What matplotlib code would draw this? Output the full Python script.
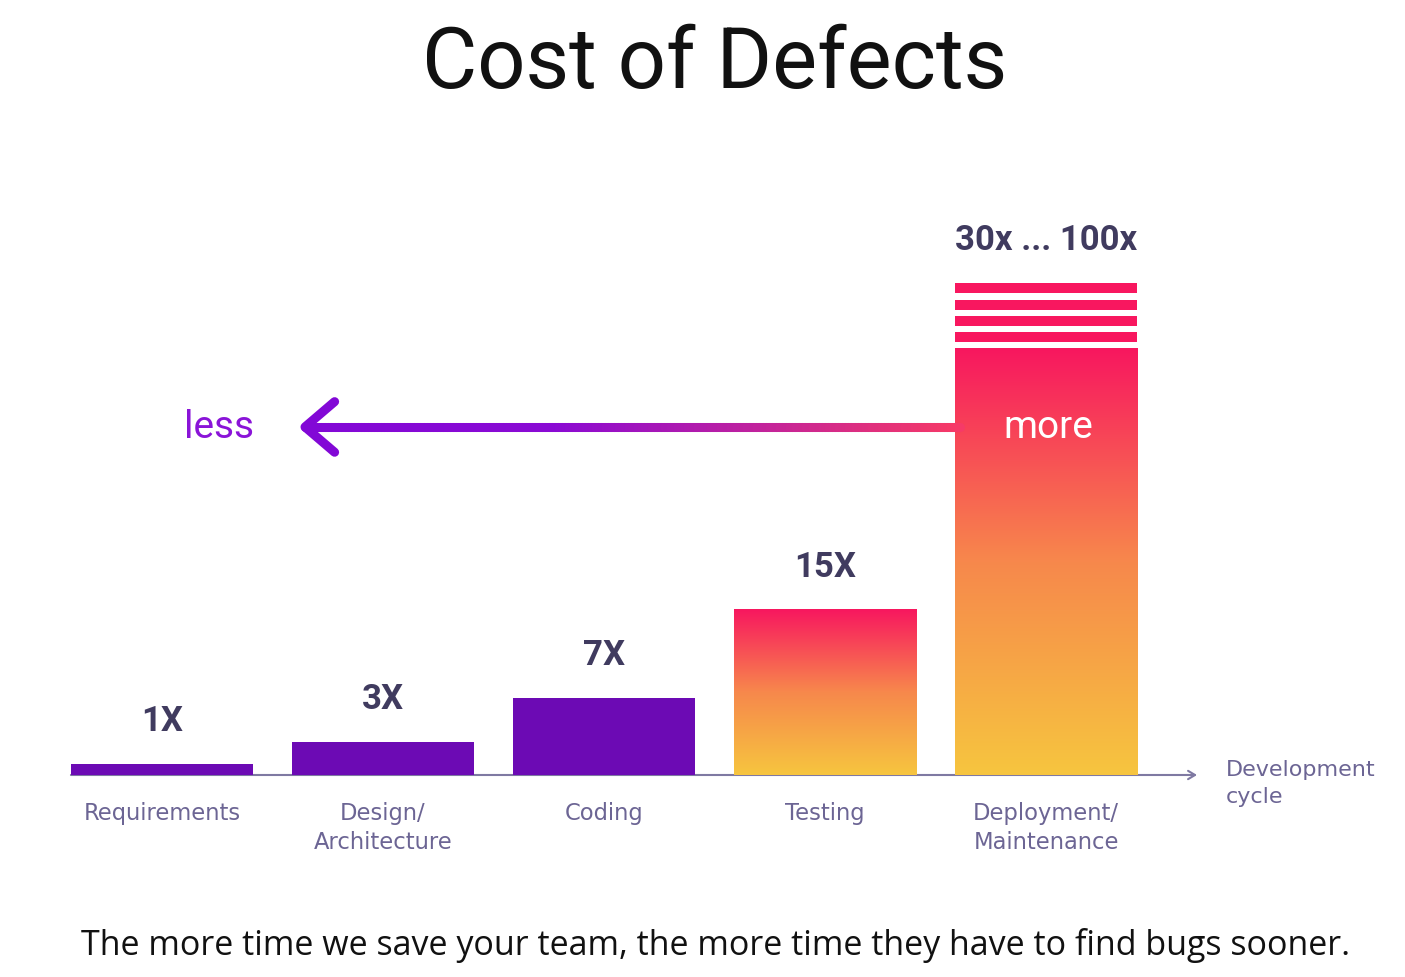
import matplotlib
matplotlib.use('Agg')
import matplotlib.pyplot as plt
import numpy as np
from matplotlib.colors import LinearSegmentedColormap
from matplotlib.collections import LineCollection

# data
stages = ['Requirements', 'Design/\nArchitecture', 'Coding', 'Testing', 'Deployment/\nMaintenance']
cost_labels = ['1X', '3X', '7X', '15X', '30x ... 100x']
bar_heights = [1, 3, 7, 15, 38.8]   # last bar is drawn "broken", it stands for 30x..100x
gradient_bar = [False, False, False, True, True]
n_stripes = 4

plt.rcParams['font.family'] = ['Roboto', 'DejaVu Sans']
wide = ['Open Sans', 'DejaVu Sans']

purple = '#6c0ab4'
label_col = '#403b5f'
cat_col = '#6c6594'
axis_col = '#7f79a2'
pink = '#f8175f'
grad = LinearSegmentedColormap.from_list('g', ['#f6c53f', '#f7884c', '#f8175f'])
arrow_cmap = LinearSegmentedColormap.from_list('a', [(0, '#8208d6'), (0.38, '#8a0ad4'), (1, '#f73a66')])

fig = plt.figure(figsize=(14.05, 9.78), dpi=100)
ax = fig.add_axes([0, 0, 1, 1])
ax.axis('off')
xlim = (-0.733, 5.624)
ylim = (-18.364, 70.545)

width = 0.8235
x = np.arange(len(stages))

for i, h in enumerate(bar_heights):
    if gradient_bar[i]:
        g = np.linspace(0, 1, 256).reshape(-1, 1)
        ax.imshow(g, cmap=grad, aspect='auto', origin='lower', interpolation='bicubic',
                  extent=[x[i] - width / 2, x[i] + width / 2, 0, h], zorder=2)
    else:
        ax.bar(x[i], h, width=width, color=purple, zorder=2)

# stripes above the broken bar
stripe_h = 0.9
stripe_step = 1.48
for k in range(n_stripes):
    ax.bar(x[-1], stripe_h, width=width, bottom=bar_heights[-1] + 0.55 + k * stripe_step,
           color=pink, zorder=2)

# value labels
for i, lab in enumerate(cost_labels):
    top = bar_heights[i]
    if i == len(cost_labels) - 1:
        top = bar_heights[-1] + 0.55 + (n_stripes - 1) * stripe_step + stripe_h
    ax.text(x[i], top + 3.1, lab, ha='center', va='baseline', fontsize=25,
            fontweight='bold', color=label_col)

# category labels
for i, s in enumerate(stages):
    ax.text(x[i], -2.4, s, ha='center', va='top', fontsize=16.3, color=cat_col,
            linespacing=1.3, family='DejaVu Sans')

# development axis
ax.annotate('', xy=(4.683, 0), xytext=(-0.412, 0),
            arrowprops=dict(arrowstyle='->,head_length=0.5,head_width=0.3',
                            color=axis_col, lw=1.5, shrinkA=0, shrinkB=0), zorder=1)
ax.text(4.814, 1.45, 'Development\ncycle', ha='left', va='top', fontsize=16,
        color=cat_col, linespacing=1.42, family='DejaVu Sans')

# less <- more arrow
ay = 31.64
xs = np.linspace(0.647, 3.611, 200)
segs = [[(xs[j], ay), (xs[j + 1], ay)] for j in range(len(xs) - 1)]
t = (xs[:-1] - xs[0]) / (xs[-1] - xs[0])
lc = LineCollection(segs, colors=arrow_cmap(t), linewidths=6.5, capstyle='round', zorder=3)
ax.add_collection(lc)
ax.plot([0.781, 0.647, 0.781], [ay + 2.3, ay, ay - 2.3], color='#8208d6', lw=6.5,
        solid_capstyle='round', solid_joinstyle='round', zorder=3)
ax.text(0.258, ay, 'less', ha='center', va='center', fontsize=28, color='#8a14d8')
ax.text(4.009, ay, 'more', ha='center', va='center', fontsize=28, color='white', zorder=4)

# title and footer
ax.text(2.502, 64.7, 'Cost of Defects', ha='center', va='center', fontsize=61,
        fontweight='normal', color='#111111')
ax.text(-0.367, -16.27, 'The more time we save your team, the more time they have to find bugs sooner.',
        ha='left', va='baseline', fontsize=24.5, color='#111111', family=wide)

ax.set_xlim(*xlim)
ax.set_ylim(*ylim)
fig.savefig('out.png', dpi=100, facecolor='white')
